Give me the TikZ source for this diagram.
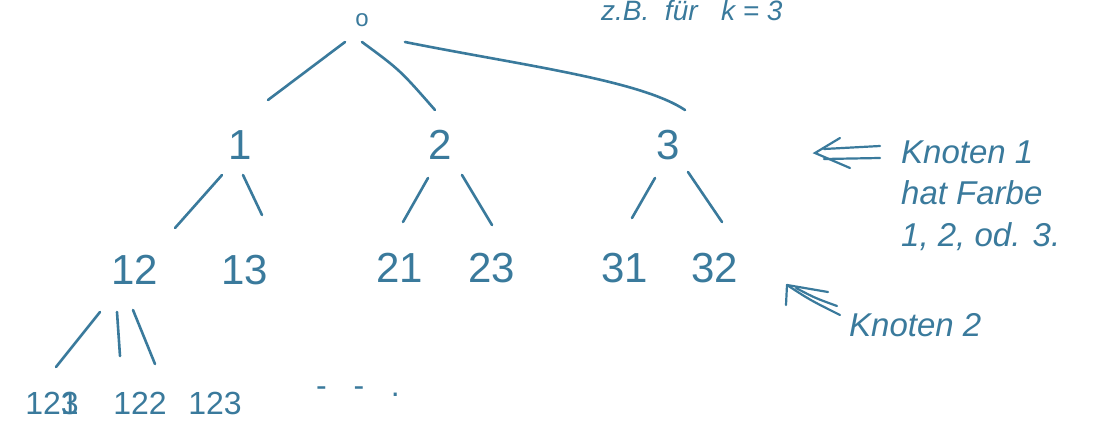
\documentclass[tikz,border=0pt]{standalone}
\usepackage{fontspec}
\setmainfont{Liberation Sans}
\usetikzlibrary{arrows.meta}
\definecolor{ink}{HTML}{3A7A9C}
\begin{document}
\begin{tikzpicture}[x=1pt,y=-1pt,
  every node/.style={text=ink,inner sep=1pt},
  num/.style={font=\fontsize{42}{46}\selectfont},
  small/.style={font=\fontsize{32}{36}\selectfont},
  note/.style={font=\itshape\fontsize{33}{36}\selectfont,align=left,anchor=west},
  edge/.style={draw=ink,line width=2.6pt,line cap=round},
  dbl/.style={draw=ink,line width=2.2pt,line cap=round}]
\useasboundingbox (0,0) rectangle (1096,439);
\fill[white] (0,0) rectangle (1096,439);
% top text
\node[font=\itshape\fontsize{28}{30}\selectfont,anchor=north west] (top) at (600,-1) {z.B. \ für \ \ k = 3};
% nodes
\node[font=\fontsize{24}{26}\selectfont] (r) at (362,20) {o};
\node[num] (n1) at (240,145) {1};
\node[num] (n2) at (440,145) {2};
\node[num] (n3) at (668,145) {3};
\node[num] (n12) at (135,270) {12};
\node[num] (n13) at (245,270) {13};
\node[num] (n21) at (400,268) {21};
\node[num] (n23) at (492,268) {23};
\node[num] (n31) at (625,268) {31};
\node[num] (n32) at (715,268) {32};
\node[small] (n121) at (52,403) {12\rlap{3}1};
\node[small] (n122) at (140,403) {122};
\node[small] (n123) at (215,403) {123};
\node[small] (dots) at (358,392) {-\ \ \ -\ \ \ .};
% edges
\coordinate (a0) at (345,42); \coordinate (a1) at (268,100);
\draw[edge] (a0) -- (a1);
\coordinate (b0) at (362,42); \coordinate (b1) at (435,110);
\draw[edge] (b0) .. controls (400,70) .. (b1);
\coordinate (c0) at (405,42); \coordinate (c1) at (685,110);
\draw[edge] (c0) .. controls (520,65) and (640,80) .. (c1);
\coordinate (d0) at (222,175); \coordinate (d1) at (175,228);
\draw[edge] (d0) -- (d1);
\coordinate (e0) at (243,175); \coordinate (e1) at (262,215);
\draw[edge] (e0) -- (e1);
\coordinate (f0) at (428,178); \coordinate (f1) at (403,222);
\draw[edge] (f0) -- (f1);
\coordinate (g0) at (462,175); \coordinate (g1) at (492,225);
\draw[edge] (g0) -- (g1);
\coordinate (h0) at (655,178); \coordinate (h1) at (632,218);
\draw[edge] (h0) -- (h1);
\coordinate (i0) at (688,172); \coordinate (i1) at (722,222);
\draw[edge] (i0) -- (i1);
\coordinate (j0) at (100,312); \coordinate (j1) at (56,367);
\draw[edge] (j0) -- (j1);
\coordinate (k0) at (117,312); \coordinate (k1) at (120,356);
\draw[edge] (k0) -- (k1);
\coordinate (l0) at (133,310); \coordinate (l1) at (155,364);
\draw[edge] (l0) -- (l1);
% notes
\node[note] (t1) at (900,152) {Knoten 1};
\node[note] (t2) at (900,193) {hat Farbe};
\node[note] (t3) at (900,237) {1, 2, od. 3.};
\node[note] (t4) at (848,325) {Knoten 2};
% arrow 1 (double)
\coordinate (p1) at (815,153);
\draw[dbl] (880,146) -- (824,149);
\draw[dbl] (880,158) -- (824,159);
\draw[dbl] (840,138) -- (p1) -- (850,168);
% arrow 2
\coordinate (q1) at (787,285);
\draw[dbl] (q1) -- (786,305);
\draw[dbl] (q1) -- (828,292);
\draw[dbl] (q1) .. controls (810,300) .. (840,315);
\draw[dbl] (796,288) .. controls (815,298) .. (837,306);
\end{tikzpicture}
\end{document}
